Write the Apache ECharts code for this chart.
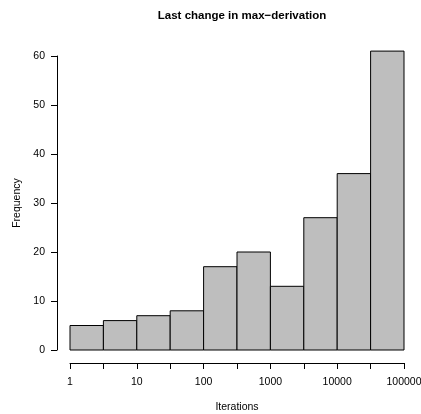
<!DOCTYPE html>
<html>
<head>
<meta charset="utf-8">
<script src="https://cdn.jsdelivr.net/npm/echarts@6/dist/echarts.min.js"></script>
<style>
  html, body { margin: 0; padding: 0; background: #fff; }
  #chart { width: 421px; height: 414px; }
</style>
</head>
<body>
<div id="chart"></div>
<script>
// Histogram bins on a log10 scale of iteration counts (half-decade wide)
const binEdgesLog10 = [0, 0.5, 1, 1.5, 2, 2.5, 3, 3.5, 4, 4.5, 5];
const counts = [5, 6, 7, 8, 17, 20, 13, 27, 36, 61];
// Labels shown at the whole decades 10^0 ... 10^5
const decadeLabels = ['1', '10', '100', '1000', '10000', '100000'];
const yTicks = [0, 10, 20, 30, 40, 50, 60];

const bars = counts.map((c, i) => [binEdgesLog10[i], binEdgesLog10[i + 1], c]);
const FONT = 'Liberation Sans, Arial, sans-serif';

const chart = echarts.init(document.getElementById('chart'), null, { renderer: 'canvas' });
chart.setOption({
  animation: false,
  backgroundColor: '#ffffff',
  title: {
    text: 'Last change in max\u2212derivation',
    left: 237,
    top: 5,
    textAlign: 'center',
    textStyle: { fontFamily: FONT, fontWeight: 'bold', fontSize: 11.5, color: '#000' }
  },
  grid: { left: 70, right: 17, top: 56, bottom: 64, containLabel: false, outerBoundsMode: 'none' },
  xAxis: {
    type: 'value',
    position: 'bottom',
    min: 0,
    max: 5,
    interval: 0.5,
    offset: 13,
    name: 'Iterations',
    nameLocation: 'middle',
    nameGap: 39,
    nameTextStyle: { fontFamily: FONT, fontSize: 10.5, color: '#000' },
    axisLine: { show: true, onZero: false, lineStyle: { color: '#000', width: 1 } },
    axisTick: { show: true, length: 6, lineStyle: { color: '#000' } },
    axisLabel: {
      fontFamily: FONT, fontSize: 10.5, color: '#000', margin: 14,
      showMinLabel: true, showMaxLabel: true,
      formatter: v => (Number.isInteger(v) ? decadeLabels[v] : '')
    },
    splitLine: { show: false }
  },
  yAxis: {
    type: 'value',
    position: 'left',
    min: yTicks[0],
    max: yTicks[yTicks.length - 1],
    interval: 10,
    offset: 13,
    name: 'Frequency',
    nameLocation: 'middle',
    nameGap: 33,
    nameTextStyle: { fontFamily: FONT, fontSize: 10.5, color: '#000' },
    axisLine: { show: true, onZero: false, lineStyle: { color: '#000', width: 1 } },
    axisTick: { show: true, length: 6, lineStyle: { color: '#000' } },
    axisLabel: { fontFamily: FONT, fontSize: 10.5, color: '#000', margin: 12 },
    splitLine: { show: false }
  },
  series: [{
    type: 'custom',
    clip: false,
    data: bars,
    encode: { x: [0, 1], y: 2 },
    renderItem: (params, api) => {
      const p0 = api.coord([api.value(0), 0]);
      const p1 = api.coord([api.value(1), api.value(2)]);
      return {
        type: 'rect',
        shape: { x: p0[0], y: p1[1], width: p1[0] - p0[0], height: p0[1] - p1[1] },
        style: { fill: '#bebebe', stroke: '#000', lineWidth: 1 }
      };
    }
  }]
});
</script>
</body>
</html>
